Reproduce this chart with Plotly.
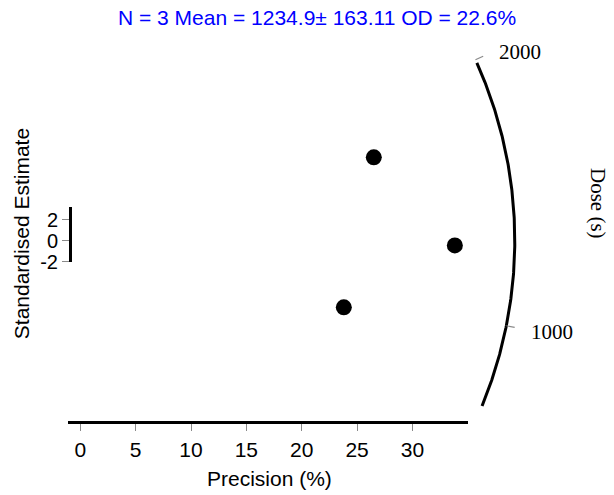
import numpy as np
import plotly.graph_objects as go

# Equivalent doses (s) with their standard errors
de = [1665.0, 1218.0, 945.0]
de_err = [62.8, 36.0, 39.7]

central_dose = 1234.9
title_text = "N = 3 Mean = 1234.9\u00b1 163.11 OD = 22.6%"

precision_ticks = [0, 5, 10, 15, 20, 25, 30]
std_ticks = [-2, 0, 2]
dose_ticks = [1000, 2000]
arc_limits = [800, 1980]

W, H = 614, 495
SANS = "Liberation Sans, Arial, sans-serif"
SERIF = "Liberation Serif, Times New Roman, serif"

# Page geometry of the radial plot, in pixels
ox, oy = 80.3, 240.5      # origin (precision 0, standardised estimate 0)
sx, sy = 11.07, 10.5      # pixels per unit along x and y
arc_r = 434.5             # radius of the dose arc
tick_len = 8.5            # length of the arc ticks
label_r = arc_r + tick_len + 15


def xu(px):
    return (px - ox) / sx


def yu(py):
    return (oy - py) / sy


# Radial plot transform: x = 1/se, y = (z - z0)/se on log scale
z = np.log(np.array(de))
se = np.array(de_err) / np.array(de)
z0 = np.log(central_dose)
precision = 1.0 / se
std_est = (z - z0) / se


def arc_point(dose, r_px):
    """Point at pixel radius r_px on the ray of slope (ln dose - z0)."""
    m = np.log(dose) - z0
    th = np.arctan(m * sy / sx)
    return r_px * np.cos(th) / sx, r_px * np.sin(th) / sy


fig = go.Figure()

# empty trace so the visible axes (x / y) have a subplot
fig.add_trace(go.Scatter(x=[], y=[], xaxis="x", yaxis="y", showlegend=False))

# dose arc
arc_doses = np.exp(np.linspace(np.log(arc_limits[0]), np.log(arc_limits[1]), 200))
ax_, ay_ = arc_point(arc_doses, arc_r)
fig.add_trace(go.Scatter(x=ax_, y=ay_, mode="lines",
                         line=dict(color="black", width=3),
                         xaxis="x2", yaxis="y2", showlegend=False))

# arc ticks and labels
for d in dose_ticks:
    x1, y1 = arc_point(d, arc_r)
    x2, y2 = arc_point(d, arc_r + tick_len)
    fig.add_trace(go.Scatter(x=[x1, x2], y=[y1, y2], mode="lines",
                             line=dict(color="#8a8a8a", width=1.2),
                             xaxis="x2", yaxis="y2", showlegend=False))
    lx, ly = arc_point(d, label_r)
    fig.add_annotation(x=lx, y=ly, xref="x2", yref="y2", text=str(d),
                       showarrow=False, xanchor="left", yanchor="middle",
                       yshift=-1.5,
                       font=dict(family=SERIF, size=21, color="black"))

# data points
fig.add_trace(go.Scatter(x=precision, y=std_est, mode="markers",
                         marker=dict(color="black", size=16),
                         xaxis="x2", yaxis="y2", showlegend=False))

# visible precision axis
x_left_px, x_right_px, x_line_py = 68.3, 468.0, 422.3
# visible standardised estimate axis
y_top_px, y_axis_px = 206.7, 70.0
y_bottom_px = oy + 2 * sy

fig.update_layout(
    template="none",
    width=W, height=H,
    margin=dict(l=0, r=0, t=0, b=0, pad=0),
    paper_bgcolor="white", plot_bgcolor="rgba(0,0,0,0)",
    showlegend=False, hovermode=False,
    font=dict(family=SANS, size=21, color="black"),
    xaxis=dict(
        domain=[x_left_px / W, x_right_px / W],
        range=[xu(x_left_px), xu(x_right_px)],
        anchor="free", position=1 - x_line_py / H, automargin=False,
        showline=True, linewidth=3, linecolor="black",
        ticks="outside", ticklen=7, tickwidth=1, tickcolor="#8a8a8a",
        tickvals=precision_ticks, ticktext=[str(t) for t in precision_ticks],
        showgrid=False, zeroline=False,
        tickfont=dict(family=SANS, size=21, color="black"),
    ),
    yaxis=dict(
        domain=[1 - y_bottom_px / H, 1 - y_top_px / H],
        range=[yu(y_bottom_px), yu(y_top_px)],
        anchor="free", position=y_axis_px / W, automargin=False,
        showline=True, linewidth=3, linecolor="black",
        ticks="outside", ticklen=7, tickwidth=1, tickcolor="#8a8a8a",
        tickvals=std_ticks, ticktext=[str(t) for t in std_ticks],
        showgrid=False, zeroline=False,
        tickfont=dict(family=SANS, size=20, color="black"),
    ),
    xaxis2=dict(domain=[0, 1], range=[xu(0), xu(W)], anchor="y2",
                visible=False, fixedrange=True, automargin=False),
    yaxis2=dict(domain=[0, 1], range=[yu(H), yu(0)], anchor="x2",
                visible=False, fixedrange=True, automargin=False),
)

# title and axis labels
fig.add_annotation(x=317.4 / W, y=1 - 17.5 / H, xref="paper", yref="paper",
                   text=title_text, showarrow=False,
                   xanchor="center", yanchor="middle",
                   font=dict(family=SANS, size=21, color="#0000FF"))
fig.add_annotation(x=269 / W, y=1 - 478 / H, xref="paper", yref="paper",
                   text="Precision (%)", showarrow=False,
                   xanchor="center", yanchor="middle",
                   font=dict(family=SANS, size=21, color="black"))
fig.add_annotation(x=21.7 / W, y=1 - 233.5 / H, xref="paper", yref="paper",
                   text="Standardised Estimate", showarrow=False, textangle=-90,
                   xanchor="center", yanchor="middle",
                   font=dict(family=SANS, size=21, color="black"))
fig.add_annotation(x=598 / W, y=1 - 203 / H, xref="paper", yref="paper",
                   text="Dose (s)", showarrow=False, textangle=90,
                   xanchor="center", yanchor="middle",
                   font=dict(family=SERIF, size=21, color="black"))

fig.write_html("out.html")
